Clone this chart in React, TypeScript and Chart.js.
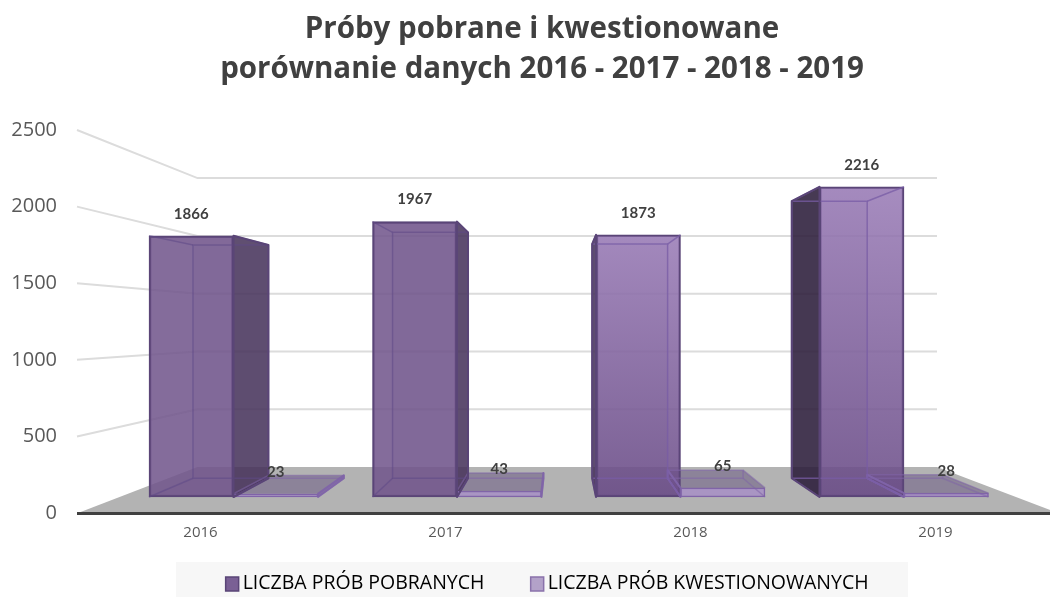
import React, { useEffect, useRef } from "react";
import { Chart, registerables } from "chart.js";

Chart.register(...registerables);

const categories = ["2016", "2017", "2018", "2019"];
const years = [2016, 2017, 2018, 2019];
const sampled = [1866, 1967, 1873, 2216];
const questioned = [23, 43, 65, 28];
const yTicks = [0, 500, 1000, 1500, 2000, 2500];
const titleLines = ["Próby pobrane i kwestionowane", "porównanie danych 2016 - 2017 - 2018 - 2019"];
const seriesNames = ["LICZBA PRÓB POBRANYCH", "LICZBA PRÓB KWESTIONOWANYCH"];
const legendFills = ["#7a6095", "#b3a2c9"];
const legendEdges = ["#5a4577", "#8a72ab"];

const TEXT = "#595959";
const VP = { x: 565, y: 326 };
const WALL = 0.7546;
const DEPTH = 0.893;
const BAR_VP = { x: 560, y: 322 };
const LEGEND_FONT = 19.5;
const LEGEND_GAP = 49.5;
const LEGEND_SHIFT = 16;

const wallPoint = (x: number, y: number) => ({
  x: VP.x + WALL * (x - VP.x),
  y: VP.y + WALL * (y - VP.y),
});
const backPoint = (x: number, y: number) => ({
  x: BAR_VP.x + DEPTH * (x - BAR_VP.x),
  y: BAR_VP.y + DEPTH * (y - BAR_VP.y),
});

function poly(ctx: CanvasRenderingContext2D, pts: { x: number; y: number }[]) {
  ctx.beginPath();
  pts.forEach((p, i) => (i ? ctx.lineTo(p.x, p.y) : ctx.moveTo(p.x, p.y)));
  ctx.closePath();
}

function barCorners(el: any) {
  const l = el.x - el.width / 2;
  const r = el.x + el.width / 2;
  const t = el.y;
  const b = el.base;
  return {
    l, r, t, b,
    fTL: { x: l, y: t }, fTR: { x: r, y: t }, fBL: { x: l, y: b }, fBR: { x: r, y: b },
    bTL: backPoint(l, t), bTR: backPoint(r, t), bBL: backPoint(l, b), bBR: backPoint(r, b),
  };
}

const stagePlugin = {
  id: "stage",
  beforeDraw(chart: any) {
    const { ctx, chartArea: a, scales } = chart;
    const y = scales.y;
    const leg = chart.legend;
    if (!leg.$shifted) {
      leg.left -= LEGEND_SHIFT;
      leg.right -= LEGEND_SHIFT;
      leg.$shifted = true;
    }
    ctx.save();
    // legend backdrop
    ctx.fillStyle = "#f7f7f7";
    ctx.fillRect(chart.width / 2 - 366, leg.top - 8, 732, chart.height - leg.top + 8);
    // floor
    const bottom = y.getPixelForValue(0);
    poly(ctx, [
      { x: a.left, y: bottom },
      wallPoint(a.left, bottom),
      wallPoint(a.right, bottom),
      { x: a.right, y: bottom },
    ]);
    ctx.fillStyle = "#b3b3b3";
    ctx.fill();
    // gridlines
    ctx.strokeStyle = "#dcdcdc";
    ctx.lineWidth = 2;
    yTicks.slice(1).forEach((v) => {
      const p = y.getPixelForValue(v);
      const w0 = wallPoint(a.left, p);
      const w1 = wallPoint(a.right, p);
      ctx.beginPath();
      ctx.moveTo(a.left - 1, p);
      ctx.lineTo(w0.x, w0.y);
      ctx.lineTo(w1.x, w1.y);
      ctx.stroke();
    });
    ctx.restore();
  },
  beforeDatasetsDraw(chart: any) {
    const { ctx } = chart;
    ctx.save();
    [1, 0].forEach((di) => {
      chart.getDatasetMeta(di).data.forEach((el: any, i: number) => {
        const c = barCorners(el);
        ctx.fillStyle = "rgba(90,70,120,0.14)";
        if (di === 0) {
          poly(ctx, [c.bTL, c.bTR, c.bBR, c.bBL]);
          ctx.fill();
          poly(ctx, [c.fBL, c.fBR, c.bBR, c.bBL]);
          ctx.fill();
        }
        ctx.fillStyle = di === 1 ? "rgba(90,70,120,0.44)" : "rgba(90,70,120,0.1)";
        poly(ctx, [c.fTL, c.fTR, c.bTR, c.bTL]);
        ctx.fill();
        const dark =
          di === 1
            ? "rgba(120,95,160,0.75)"
            : i === 3
            ? "rgba(43,28,57,0.86)"
            : "rgba(70,50,90,0.85)";
        if (c.bTR.x > c.r) {
          poly(ctx, [c.fTR, c.bTR, c.bBR, c.fBR]);
          ctx.fillStyle = dark;
          ctx.fill();
        }
        if (c.bTL.x < c.l) {
          poly(ctx, [c.fTL, c.bTL, c.bBL, c.fBL]);
          ctx.fillStyle = dark;
          ctx.fill();
        }
      });
    });
    ctx.restore();
  },
  afterDatasetsDraw(chart: any) {
    const { ctx } = chart;
    ctx.save();
    [1, 0].forEach((di) => {
      chart.getDatasetMeta(di).data.forEach((el: any, i: number) => {
        const c = barCorners(el);
        ctx.lineJoin = "round";
        ctx.lineWidth = 1.5;
        ctx.strokeStyle =
          di === 1 ? "rgba(128,100,168,0.55)" : i < 2 ? "rgba(95,72,135,0.55)" : "rgba(120,92,165,0.75)";
        poly(ctx, [c.bTL, c.bTR, c.bBR, c.bBL]);
        ctx.stroke();
        [[c.fTL, c.bTL], [c.fTR, c.bTR], [c.fBL, c.bBL], [c.fBR, c.bBR]].forEach(([p, q]) => {
          ctx.beginPath();
          ctx.moveTo(p.x, p.y);
          ctx.lineTo(q.x, q.y);
          ctx.stroke();
        });
        // silhouette of a visible side face
        ctx.strokeStyle = di === 0 ? "#5a4577" : "rgba(128,100,168,0.9)";
        ctx.lineWidth = 2;
        if (c.bTR.x > c.r) {
          poly(ctx, [c.fTR, c.bTR, c.bBR, c.fBR]);
          ctx.stroke();
        }
        if (c.bTL.x < c.l) {
          poly(ctx, [c.fTL, c.bTL, c.bBL, c.fBL]);
          ctx.stroke();
        }
      });
    });
    // value labels
    ctx.font = "bold 15px Lato";
    ctx.fillStyle = "#404040";
    ctx.textAlign = "center";
    ctx.textBaseline = "middle";
    [sampled, questioned].forEach((vals, di) => {
      chart.getDatasetMeta(di).data.forEach((el: any, i: number) => {
        ctx.fillText(String(vals[i]), el.x, el.y - 22);
      });
    });
    ctx.restore();
  },
  afterDraw(chart: any) {
    // legend squares sit tight against their labels
    const { ctx } = chart;
    ctx.save();
    chart.legend.legendHitBoxes.forEach((h: any, i: number) => {
      const textX = h.left - LEGEND_SHIFT + LEGEND_GAP + LEGEND_FONT / 2;
      ctx.fillStyle = legendFills[i];
      ctx.strokeStyle = legendEdges[i];
      ctx.lineWidth = 1.5;
      ctx.fillRect(textX - 17, chart.height - 20, 13, 14);
      ctx.strokeRect(textX - 17, chart.height - 20, 13, 14);
    });
    ctx.restore();
  },
};

function tallColour(ctx: any) {
  const i = ctx.dataIndex;
  if (i < 2) return "rgba(114,86,140,0.87)";
  const s = ctx.chart.scales.yFront;
  if (!s) return "rgba(130,100,160,0.87)";
  const g = ctx.chart.ctx.createLinearGradient(0, s.getPixelForValue(sampled[i]), 0, s.getPixelForValue(0));
  g.addColorStop(0, "rgba(153,123,182,0.87)");
  g.addColorStop(1, "rgba(105,75,134,0.87)");
  return g;
}

export default function App() {
  const ref = useRef<HTMLCanvasElement>(null);
  useEffect(() => {
    if (!ref.current) return;
    const chart = new Chart(ref.current, {
      type: "bar",
      plugins: [stagePlugin],
      data: {
        labels: categories,
        datasets: [
          {
            label: seriesNames[0],
            data: years.map((x, i) => ({ x, y: sampled[i] })),
            xAxisID: "xFront",
            yAxisID: "yFront",
            backgroundColor: tallColour,
            borderColor: "#5a4577",
            borderWidth: 2,
            borderSkipped: false,
            barThickness: 84.5,
          },
          {
            label: seriesNames[1],
            data: years.map((x, i) => ({ x, y: questioned[i] })),
            xAxisID: "xFront",
            yAxisID: "yFront",
            backgroundColor: "rgba(168,146,196,0.92)",
            borderColor: "#8064a8",
            borderWidth: 1.5,
            borderSkipped: false,
            barThickness: 84.5,
          },
        ],
      } as any,
      options: {
        responsive: false,
        animation: false,
        events: [],
        layout: { padding: 0 },
        scales: {
          x: {
            type: "category",
            position: "bottom",
            offset: true,
            grid: { display: false, drawTicks: false },
            border: { display: true, color: "#404040", width: 3 },
            ticks: { color: TEXT, font: { family: "'Open Sans'", size: 15 }, padding: 11, maxRotation: 0 },
            afterFit: (s: any) => { s.height = 57; },
          },
          y: {
            type: "linear",
            position: "left",
            min: 0,
            max: 2500,
            grid: { display: false, drawTicks: false },
            border: { display: false },
            ticks: {
              stepSize: 500,
              color: TEXT,
              font: { family: "'Open Sans'", size: 20 },
              padding: 21,
              callback: (v: any) => String(v),
            },
            afterFit: (s: any) => { s.width = 78; },
          },
          xFront: {
            type: "linear",
            display: false,
            offset: false,
            min: 2015.3043,
            max: 2019.689,
            grid: { offset: false },
          },
          yFront: {
            type: "linear",
            position: "right",
            min: -114.29,
            max: 2621.43,
            grid: { display: false, drawTicks: false },
            border: { display: false },
            ticks: { display: false },
            afterFit: (s: any) => { s.width = 26; },
          },
        },
        plugins: {
          tooltip: { enabled: false },
          title: {
            display: true,
            text: titleLines,
            color: "#404040",
            font: { family: "'Open Sans'", size: 29.5, weight: "bold", lineHeight: 1.356 },
            padding: { top: 10, bottom: 40 },
          },
          legend: {
            display: true,
            position: "bottom",
            maxHeight: 27,
            labels: {
              color: TEXT,
              font: { family: "'Open Sans'", size: LEGEND_FONT },
              boxWidth: LEGEND_GAP,
              boxHeight: 1,
              padding: 4,
              generateLabels: () =>
                seriesNames.map((text, datasetIndex) => ({
                  text,
                  fillStyle: "rgba(0,0,0,0)",
                  strokeStyle: "rgba(0,0,0,0)",
                  lineWidth: 0,
                  datasetIndex,
                })),
            },
          },
        },
      } as any,
    });
    return () => chart.destroy();
  }, []);
  return (
    <div style={{ position: "absolute", left: 0, top: 0, width: 1050, height: 597, overflow: "hidden", background: "#fff" }}>
      <canvas ref={ref} width={1084} height={597} style={{ display: "block" }} />
    </div>
  );
}
